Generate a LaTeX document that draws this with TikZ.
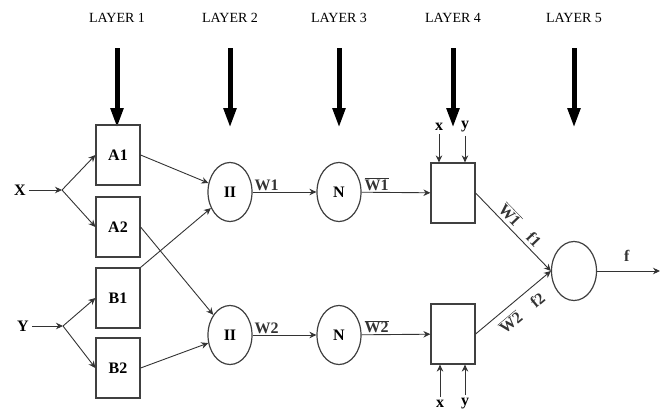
\documentclass[tikz,border=0pt]{standalone}
\usepackage{fontspec}
\setmainfont{Liberation Serif}
\usetikzlibrary{arrows.meta,shapes.geometric}

\begin{document}
\begin{tikzpicture}[x=1pt,y=-1pt,>={Stealth[length=7pt,width=6.5pt]},
  font=\fontsize{16}{18}\selectfont\bfseries,
  box/.style={draw=black!75,line width=1.2pt,minimum width=44pt,minimum height=60pt,inner sep=0pt},
  nd/.style={draw=black!75,ellipse,line width=1.2pt,minimum width=44pt,minimum height=59pt,inner sep=0pt},
  lnk/.style={->,line width=0.9pt,black!80},
  fat/.style={-{Triangle[width=12pt,length=20pt]},line width=5pt},
  lay/.style={font=\fontsize{14}{16}\selectfont}]
\useasboundingbox (0,0) rectangle (670,415);
% layer headings and thick arrows
\foreach \x/\n in {117/1,230/2,339/3,453/4,574/5}{
  \node[lay] (l\n) at (\x,18) {LAYER \n};
  \coordinate (t\n) at (\x,48); \coordinate (h\n) at (\x,128);
  \draw[fat] (t\n) -- (h\n);
}
% layer 1
\node[box] (a1) at (118,155) {A1};
\node[box] (a2) at (118,227) {A2};
\node[box] (b1) at (118,298) {B1};
\node[box] (b2) at (118,368) {B2};
\node (X) at (20,190) {X}; \coordinate (xs) at (62,190);
\node (Y) at (23,326) {Y}; \coordinate (ys) at (63,326);
\draw[lnk] (X) -- (xs); \draw[lnk] (xs) -- (a1.west); \draw[lnk] (xs) -- (a2.west);
\draw[lnk] (Y) -- (ys); \draw[lnk] (ys) -- (b1.west); \draw[lnk] (ys) -- (b2.west);
% layers 2 and 3
\node[nd] (p1) at (230,192) {II};
\node[nd] (p2) at (230,335) {II};
\node[nd] (n1) at (339,192) {N};
\node[nd] (n2) at (339,335) {N};
\draw[lnk] (a1.east) -- (p1); \draw[lnk] (b1.north east) -- (p1);
\draw[lnk] (a2.east) -- (p2); \draw[lnk] (b2.east) -- (p2);
\draw[lnk] (p1) -- node[above,pos=0.22,inner sep=1pt] {W1} (n1);
\draw[lnk] (p2) -- node[above,pos=0.22,inner sep=1pt] {W2} (n2);
% layer 4
\node[box] (r1) at (453,193) {};
\node[box] (r2) at (453,334) {};
\draw[lnk] (n1) -- node[above,pos=0.22,inner sep=1pt] {$\overline{\textbf{W1}}$} (r1);
\draw[lnk] (n2) -- node[above,pos=0.22,inner sep=1pt] {$\overline{\textbf{W2}}$} (r2);
\node (x1) at (439,127) {x}; \node (y1) at (465,127) {y};
\node (x2) at (440,404) {x}; \node (y2) at (465,404) {y};
\draw[lnk] (x1) -- (r1.north -| x1); \draw[lnk] (y1) -- (r1.north -| y1);
\draw[lnk] (x2) -- (r2.south -| x2); \draw[lnk] (y2) -- (r2.south -| y2);
% layer 5
\node[nd,minimum width=45pt] (s) at (574,271) {};
\coordinate (out) at (660,271);
\draw[lnk] (r1.east) -- node[above,sloped] {$\overline{\textbf{W1}}$\quad f1} (s.west);
\draw[lnk] (r2.east) -- node[below=3pt,sloped] {$\overline{\textbf{W2}}$\quad f2} (s.west);
\draw[lnk] (s.east) -- node[above=6pt,pos=0.47] {f} (out);
\end{tikzpicture}
\end{document}
